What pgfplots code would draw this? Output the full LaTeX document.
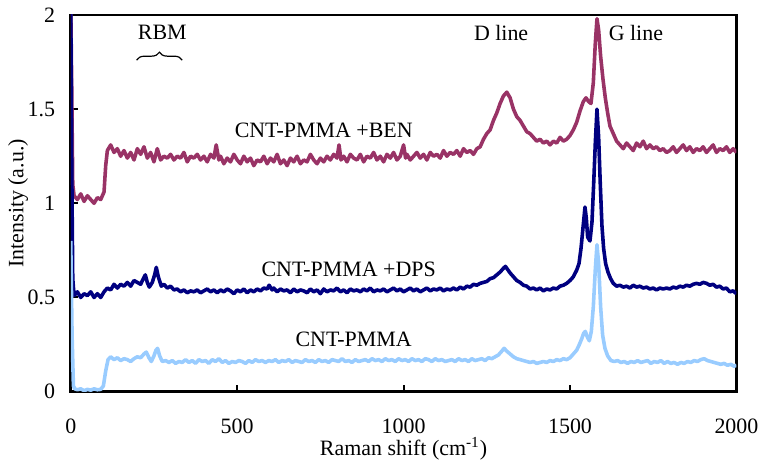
\documentclass[border=0pt]{standalone}
\usepackage{fontspec}
\setmainfont{Liberation Serif}
\usepackage{pgfplots}
\pgfplotsset{compat=1.18}
\usetikzlibrary{decorations.pathreplacing}
\definecolor{benred}{RGB}{153,51,102}
\definecolor{dpsnavy}{RGB}{0,0,128}
\definecolor{pmmablue}{RGB}{153,204,255}

\begin{document}
\begin{tikzpicture}
\begin{axis}[
    scale only axis,
    width=334pt, height=189pt,
    xmin=0, xmax=2000, ymin=0, ymax=2,
    xtick={0,500,1000,1500,2000},
    ytick={0,0.5,1,1.5,2},
    tick align=inside, tick pos=left,
    major tick length=3.5pt,
    major tick style={line width=1pt, black},
    axis line style={line width=1.3pt},
    font=\fontsize{11}{13}\selectfont,
    /pgf/number format/assume math mode=true,
    /pgf/number format/1000 sep={},
    yticklabel style={xshift=-4.3pt},
    xticklabel style={yshift=-10pt},
    xlabel={Raman shift (cm\textsuperscript{-1})},
    ylabel={Intensity (a.u.)},
    xlabel style={at={(axis description cs:0.5,0)}, anchor=center, yshift=-28.5pt},
    ylabel style={at={(axis description cs:-0.079,0.5)}, anchor=center},
    clip=true,
    every axis plot/.append style={line width=1.8pt, line join=round},
]

% CNT-PMMA +BEN
\addplot[benred] coordinates {
(0,2.05)(3,1.6)(6,1.1)(10,1.04)(20,1.02)(30,1.05)(40,1.01)(50,1.04)(60,1.02)(70,1.00)(80,1.03)(90,1.02)
(100,1.06)(105,1.20)(110,1.28)(120,1.31)(130,1.27)(140,1.29)(150,1.25)(160,1.28)(170,1.24)(180,1.27)(190,1.23)
(200,1.29)(210,1.26)(220,1.30)(230,1.24)(240,1.27)(250,1.22)(260,1.29)(270,1.23)(280,1.25)(290,1.24)
(300,1.26)(310,1.23)(320,1.25)(330,1.24)(340,1.27)(350,1.22)(360,1.25)(370,1.24)(380,1.26)(390,1.23)
(400,1.25)(410,1.22)(420,1.26)(430,1.24)(437,1.31)(445,1.23)(450,1.25)(460,1.21)(470,1.24)(480,1.22)(490,1.26)
(500,1.23)(510,1.21)(520,1.25)(530,1.22)(540,1.24)(550,1.20)(560,1.23)(570,1.22)(580,1.25)(590,1.21)
(600,1.24)(610,1.22)(620,1.26)(630,1.21)(640,1.23)(650,1.20)(660,1.24)(670,1.22)(680,1.25)(690,1.21)
(700,1.23)(710,1.22)(720,1.26)(730,1.23)(740,1.21)(750,1.24)(760,1.22)(770,1.25)(780,1.23)(790,1.26)
(800,1.24)(806,1.31)(812,1.23)(820,1.25)(830,1.22)(840,1.26)(850,1.24)(860,1.23)(870,1.26)(880,1.22)(890,1.25)
(900,1.24)(910,1.27)(920,1.23)(930,1.25)(940,1.22)(950,1.26)(960,1.24)(970,1.27)(980,1.23)(990,1.25)
(1000,1.31)(1006,1.24)(1010,1.26)(1020,1.23)(1030,1.25)(1040,1.27)(1050,1.24)(1060,1.26)(1070,1.23)(1080,1.27)(1090,1.25)
(1100,1.26)(1110,1.24)(1120,1.28)(1130,1.25)(1140,1.27)(1150,1.26)(1160,1.28)(1170,1.25)(1180,1.29)(1190,1.27)
(1200,1.28)(1210,1.26)(1220,1.29)(1230,1.30)(1240,1.34)(1250,1.37)(1260,1.39)(1270,1.44)(1280,1.48)(1290,1.53)
(1300,1.57)(1310,1.59)(1320,1.56)(1330,1.50)(1340,1.46)(1350,1.44)(1360,1.41)(1370,1.38)(1380,1.37)(1390,1.35)
(1400,1.33)(1410,1.34)(1420,1.32)(1430,1.33)(1440,1.31)(1450,1.33)(1460,1.32)(1470,1.35)(1480,1.33)(1490,1.34)
(1500,1.36)(1510,1.39)(1520,1.43)(1530,1.49)(1540,1.54)(1548,1.56)(1556,1.54)(1563,1.53)(1570,1.64)(1576,1.85)
(1581,1.98)(1586,1.92)(1592,1.78)(1599,1.66)(1606,1.56)(1613,1.48)(1620,1.41)(1630,1.37)(1640,1.33)(1650,1.31)
(1660,1.29)(1670,1.32)(1680,1.30)(1690,1.28)(1700,1.32)(1710,1.30)(1720,1.33)(1730,1.29)(1740,1.31)(1750,1.29)
(1760,1.30)(1770,1.28)(1780,1.29)(1790,1.27)(1800,1.28)(1810,1.30)(1820,1.27)(1830,1.29)(1840,1.31)(1850,1.28)
(1860,1.30)(1870,1.27)(1880,1.29)(1890,1.28)(1900,1.30)(1910,1.27)(1920,1.29)(1930,1.31)(1940,1.27)(1950,1.29)
(1960,1.28)(1970,1.30)(1980,1.27)(1990,1.29)(2000,1.27)
};

% CNT-PMMA +DPS
\addplot[dpsnavy] coordinates {
(0,2.05)(3,1.2)(6,0.6)(10,0.51)(20,0.53)(30,0.50)(40,0.52)(50,0.51)(60,0.53)(70,0.50)(80,0.52)(90,0.50)
(100,0.53)(110,0.55)(120,0.54)(130,0.57)(140,0.55)(150,0.57)(160,0.56)(170,0.58)(180,0.56)(190,0.59)
(200,0.58)(210,0.57)(218,0.60)(224,0.62)(230,0.58)(236,0.555)(245,0.58)(252,0.62)(257,0.66)(263,0.61)(272,0.56)
(280,0.57)(290,0.55)(300,0.56)(310,0.54)(320,0.545)(330,0.53)(340,0.54)(350,0.525)(360,0.535)(370,0.53)
(380,0.54)(390,0.525)(400,0.535)(410,0.545)(420,0.53)(430,0.54)(440,0.525)(450,0.54)(460,0.53)(470,0.545)
(480,0.535)(490,0.52)(500,0.54)(510,0.53)(520,0.545)(530,0.525)(540,0.54)(550,0.53)(560,0.545)(570,0.535)
(580,0.55)(590,0.545)(596,0.565)(605,0.54)(610,0.55)(620,0.53)(630,0.545)(640,0.535)(650,0.54)(660,0.525)
(670,0.545)(680,0.53)(690,0.54)(700,0.535)(710,0.525)(720,0.545)(730,0.53)(740,0.54)(750,0.52)(760,0.545)
(770,0.53)(780,0.54)(790,0.535)(800,0.55)(810,0.53)(820,0.54)(830,0.525)(840,0.545)(850,0.535)(860,0.54)
(870,0.53)(880,0.545)(890,0.535)(900,0.55)(910,0.53)(920,0.54)(930,0.535)(940,0.545)(950,0.53)(960,0.54)
(970,0.55)(980,0.535)(990,0.545)(1000,0.53)(1010,0.54)(1020,0.55)(1030,0.535)(1040,0.545)(1050,0.53)(1060,0.54)
(1070,0.55)(1080,0.535)(1090,0.545)(1100,0.54)(1110,0.55)(1120,0.535)(1130,0.545)(1140,0.54)(1150,0.55)(1160,0.54)
(1170,0.555)(1180,0.545)(1190,0.56)(1200,0.555)(1210,0.57)(1220,0.565)(1230,0.575)(1240,0.58)(1250,0.585)(1260,0.60)
(1270,0.605)(1280,0.62)(1290,0.635)(1300,0.655)(1306,0.665)(1312,0.65)(1320,0.63)(1330,0.61)(1340,0.59)(1350,0.58)
(1360,0.565)(1370,0.56)(1380,0.545)(1390,0.55)(1400,0.54)(1410,0.55)(1420,0.535)(1430,0.545)(1440,0.54)(1450,0.55)
(1460,0.545)(1470,0.56)(1480,0.565)(1490,0.575)(1500,0.59)(1510,0.61)(1520,0.645)(1527,0.68)(1533,0.76)(1539,0.87)
(1545,0.98)(1549,0.92)(1553,0.82)(1560,0.80)(1566,0.90)(1571,1.10)(1576,1.32)(1581,1.50)(1586,1.35)(1591,1.10)
(1596,0.88)(1601,0.76)(1607,0.68)(1614,0.635)(1622,0.60)(1630,0.575)(1640,0.56)(1650,0.565)(1660,0.555)(1670,0.56)
(1680,0.55)(1690,0.565)(1700,0.555)(1710,0.56)(1720,0.55)(1730,0.555)(1740,0.545)(1750,0.55)(1760,0.54)(1770,0.55)
(1780,0.545)(1790,0.55)(1800,0.545)(1810,0.555)(1820,0.55)(1830,0.56)(1840,0.555)(1850,0.565)(1860,0.56)(1870,0.57)
(1880,0.575)(1890,0.57)(1900,0.58)(1910,0.575)(1920,0.565)(1930,0.57)(1940,0.555)(1950,0.56)(1960,0.545)(1970,0.55)
(1980,0.53)(1990,0.535)(2000,0.52)
};

% CNT-PMMA
\addplot[pmmablue] coordinates {
(0,0.8)(4,0.3)(8,0.03)(12,0.015)(20,0.01)(30,0.015)(40,0.005)(50,0.012)(60,0.008)(70,0.015)(80,0.01)(90,0.012)
(98,0.03)(105,0.11)(112,0.17)(120,0.185)(130,0.17)(140,0.18)(150,0.165)(160,0.175)(170,0.17)(180,0.16)(190,0.175)
(200,0.185)(210,0.18)(220,0.2)(227,0.21)(235,0.18)(242,0.16)(250,0.19)(256,0.22)(261,0.23)(267,0.19)(275,0.16)
(285,0.165)(295,0.155)(305,0.165)(315,0.15)(325,0.16)(335,0.155)(345,0.17)(355,0.155)(365,0.165)(375,0.15)
(385,0.17)(395,0.16)(405,0.165)(415,0.15)(425,0.17)(435,0.16)(445,0.175)(455,0.155)(465,0.165)(475,0.15)
(485,0.16)(495,0.155)(505,0.165)(515,0.16)(525,0.15)(535,0.165)(545,0.155)(555,0.17)(565,0.16)(575,0.165)
(585,0.155)(595,0.165)(605,0.16)(615,0.17)(625,0.155)(635,0.165)(645,0.16)(655,0.17)(665,0.155)(675,0.165)
(685,0.16)(695,0.155)(705,0.17)(715,0.16)(725,0.165)(735,0.155)(745,0.17)(755,0.16)(765,0.165)(775,0.155)
(785,0.17)(795,0.165)(805,0.16)(815,0.175)(825,0.16)(835,0.165)(845,0.155)(855,0.17)(865,0.16)(875,0.165)
(885,0.17)(895,0.16)(905,0.175)(915,0.165)(925,0.17)(935,0.16)(945,0.175)(955,0.165)(965,0.17)(975,0.16)
(985,0.175)(995,0.165)(1005,0.17)(1015,0.16)(1025,0.175)(1035,0.165)(1045,0.17)(1055,0.16)(1065,0.175)(1075,0.17)
(1085,0.16)(1095,0.175)(1105,0.165)(1115,0.17)(1125,0.16)(1135,0.165)(1145,0.17)(1155,0.16)(1165,0.175)(1175,0.165)
(1185,0.17)(1195,0.16)(1205,0.175)(1215,0.165)(1225,0.17)(1235,0.175)(1245,0.165)(1255,0.18)(1265,0.175)(1275,0.185)
(1285,0.195)(1295,0.215)(1302,0.23)(1310,0.215)(1320,0.2)(1330,0.185)(1340,0.175)(1350,0.17)(1360,0.165)(1370,0.16)
(1380,0.155)(1390,0.16)(1400,0.15)(1410,0.155)(1420,0.16)(1430,0.155)(1440,0.165)(1450,0.16)(1460,0.17)(1470,0.165)
(1480,0.175)(1490,0.17)(1500,0.18)(1510,0.2)(1520,0.22)(1528,0.25)(1535,0.28)(1541,0.31)(1546,0.32)(1552,0.29)
(1558,0.27)(1564,0.32)(1570,0.45)(1576,0.65)(1581,0.78)(1586,0.68)(1592,0.45)(1598,0.3)(1605,0.23)(1613,0.19)
(1623,0.165)(1633,0.16)(1643,0.165)(1653,0.155)(1663,0.16)(1673,0.15)(1683,0.16)(1693,0.155)(1703,0.165)(1713,0.155)
(1723,0.16)(1733,0.165)(1743,0.15)(1753,0.16)(1763,0.155)(1773,0.165)(1783,0.15)(1793,0.16)(1803,0.15)(1813,0.155)
(1823,0.145)(1833,0.155)(1843,0.15)(1853,0.16)(1863,0.155)(1873,0.165)(1883,0.16)(1893,0.17)(1903,0.175)(1913,0.165)
(1923,0.16)(1933,0.155)(1943,0.15)(1953,0.145)(1963,0.15)(1973,0.14)(1983,0.145)(1993,0.135)(2000,0.14)
};

\node at (axis cs:275,1.91) {RBM};
\draw[line width=0.6pt, decorate, decoration={brace, amplitude=4pt}] (axis cs:198,1.76) -- (axis cs:335,1.76);
\node at (axis cs:1293,1.905) {D line};
\node at (axis cs:1698,1.905) {G line};
\node at (axis cs:760,1.386) {CNT-PMMA +BEN};
\node at (axis cs:835,0.651) {CNT-PMMA +DPS};
\node at (axis cs:850,0.28) {CNT-PMMA};
\end{axis}
\path (-35.5pt,-32pt) rectangle (347pt,196.5pt);
\end{tikzpicture}
\end{document}
